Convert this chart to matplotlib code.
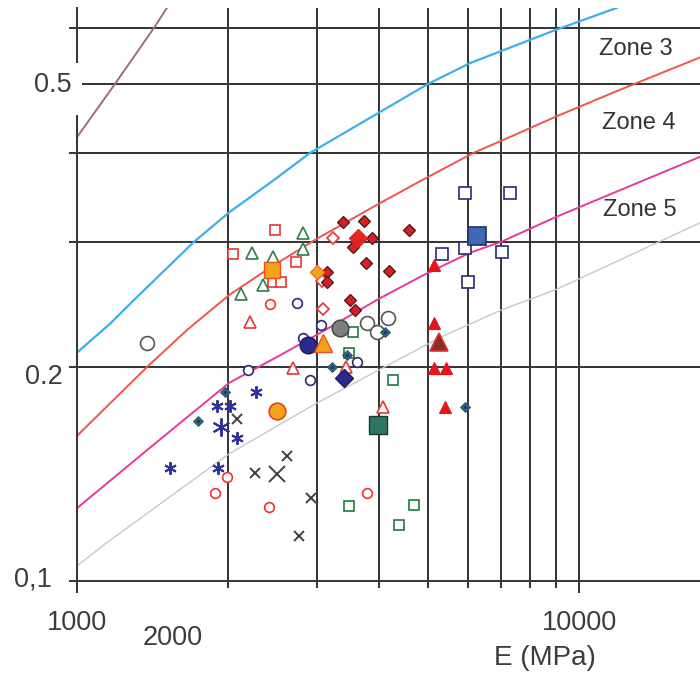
import matplotlib
matplotlib.use("Agg")
import matplotlib.pyplot as plt
from matplotlib.patches import Rectangle

plt.rcParams["font.family"] = ["Liberation Sans", "DejaVu Sans"]

# ---------------------------------------------------------------------------
# zone boundary curves (E in MPa, ordinate)
# ---------------------------------------------------------------------------
top_e = [1000, 1190, 1424, 1511, 1560]
top_v = [0.421, 0.500, 0.600, 0.640, 0.660]

zone3_e = [1000, 1163, 1317, 1711, 2010, 2469, 2912, 4014, 5000, 6065, 9000, 11904, 12500]
zone3_v = [0.2095, 0.2300, 0.2509, 0.300, 0.330, 0.3665, 0.400, 0.4567, 0.500, 0.535, 0.596, 0.640, 0.655]

zone4_e = [1000, 1379, 1656, 2010, 2469, 3006, 4014, 5000, 6160, 7500, 9000, 12000, 17420]
zone4_v = [0.160, 0.200, 0.2254, 0.2525, 0.2782, 0.303, 0.340, 0.370, 0.400, 0.425, 0.450, 0.490, 0.545]

zone5_e = [1000, 1379, 2010, 2503, 3006, 4014, 5000, 6065, 7000, 9000, 17420]
zone5_v = [0.1266, 0.1528, 0.190, 0.2066, 0.222, 0.2499, 0.2713, 0.2895, 0.300, 0.3251, 0.395]

low_e = [1000, 1148, 2010, 3006, 5285, 7000, 9000, 17420]
low_v = [0.105, 0.1133, 0.151, 0.178, 0.220, 0.2405, 0.257, 0.319]

# ---------------------------------------------------------------------------
# measured points
# ---------------------------------------------------------------------------
red_sq_e = [2480, 2045, 2731, 2457, 2549]
red_sq_v = [0.312, 0.2885, 0.281, 0.263, 0.263]

green_tri_e = [2232, 2819, 2819, 2121, 2347, 2457]
green_tri_v = [0.289, 0.309, 0.293, 0.253, 0.261, 0.286]

red_circ_e = [2424, 1989, 1883, 2413, 3781]
red_circ_v = [0.245, 0.140, 0.133, 0.127, 0.133]

red_dia_e = [3236, 3076, 3090]
red_dia_v = [0.304, 0.264, 0.241]

dkred_dia_e = [3388, 3730, 3869, 3547, 4586, 3764, 4184, 3148, 3148, 3498, 3579]
dkred_dia_v = [0.320, 0.321, 0.304, 0.295, 0.312, 0.280, 0.273, 0.272, 0.263, 0.2485, 0.2405]

red_tri_e = [5144, 5144, 5144, 5435, 5410]
red_tri_v = [0.278, 0.2305, 0.1994, 0.1994, 0.1757]

navy_sq_e = [5930, 7288, 5930, 5336, 7025, 6012]
navy_sq_v = [0.351, 0.351, 0.294, 0.2885, 0.290, 0.263]

teal_dia_e = [1971, 1742, 3221, 3451, 4109, 5930]
teal_dia_v = [0.1845, 0.168, 0.200, 0.208, 0.224, 0.1757]

green_sq_e = [3547, 3482, 4262, 3482, 4693, 4380]
green_sq_v = [0.224, 0.209, 0.192, 0.1275, 0.128, 0.120]

gray_circ_e = [1379, 3781, 4165, 3959]
gray_circ_v = [0.216, 0.2305, 0.234, 0.224]

navy_circ_e = [2743, 2191, 2912, 3612, 2819, 3062]
navy_circ_v = [0.246, 0.198, 0.192, 0.203, 0.220, 0.229]

red_otri_e = [2211, 2693, 3435, 4071]
red_otri_v = [0.231, 0.1994, 0.200, 0.1757]

star_e = [2273, 1900, 2017, 2083, 1532, 1909]
star_v = [0.1845, 0.176, 0.176, 0.159, 0.144, 0.144]
star_big_e = [1936]
star_big_v = [0.1647]

cross_e = [2083, 2263, 2620, 2925, 2768]
cross_v = [0.169, 0.142, 0.150, 0.131, 0.1157]
cross_big_e = [2503]
cross_big_v = [0.1415]

# mean values (large symbols)
orange_dia_e, orange_dia_v = [3006], [0.272]
orange_sq_e, orange_sq_v = [2446], [0.274]
bigred_dia_e, bigred_dia_v = [3628], [0.304]
blue_sq_e, blue_sq_v = [6265], [0.3057]
dkred_tri_e, dkred_tri_v = [5262], [0.2168]
gray_fc_e, gray_fc_v = [3342], [0.227]
navy_fc_e, navy_fc_v = [2885], [0.2147]
orange_tri_e, orange_tri_v = [3090], [0.216]
navy_dia_e, navy_dia_v = [3404], [0.193]
orange_circ_e, orange_circ_v = [2503], [0.1734]
teal_sq_e, teal_sq_v = [3977], [0.166]

GRID = "#383838"
TXT = "#3c3c3c"
W, H = 700, 673

fig = plt.figure(figsize=(W / 100, H / 100), dpi=100)
ax = fig.add_axes([77 / W, 1 - 581 / H, 623 / W, 573 / H])
ax.set_xscale("log")
ax.set_yscale("log")
ax.set_xlim(1000, 17420)
ax.set_ylim(0.1, 0.6396)

# grid: major ticks at the decades, minor ticks in between
ax.set_xticks([1000, 10000])
ax.set_xticks([2000, 3000, 4000, 5000, 6000, 7000, 8000, 9000], minor=True)
ax.set_yticks([0.1, 0.2, 0.3, 0.4, 0.5, 0.6])
ax.set_yticks([], minor=True)
ax.set_xticklabels([])
ax.set_xticklabels([], minor=True)
ax.set_yticklabels([])
ax.grid(True, which="both", color=GRID, linewidth=1.45)
ax.tick_params(axis="x", which="major", direction="out", length=8.5, width=1.45, color=GRID)
ax.tick_params(axis="x", which="minor", direction="out", length=5, width=1.45, color=GRID)
ax.tick_params(axis="y", which="major", direction="out", length=6, width=1.45, color=GRID)
for side in ("top", "right"):
    ax.spines[side].set_visible(False)
for side in ("left", "bottom"):
    ax.spines[side].set_color(GRID)
    ax.spines[side].set_linewidth(1.45)

# zone curves
ax.plot(top_e, top_v, color="#9e6a85", lw=1.4)
ax.plot(zone3_e, zone3_v, color="#3bb0ea", lw=1.6)
ax.plot(zone4_e, zone4_v, color="#f0554d", lw=1.4)
ax.plot(zone5_e, zone5_v, color="#e8389a", lw=1.4)
ax.plot(low_e, low_v, color="#c8c8cc", lw=1.0)


def pts(e, v, **kw):
    ax.plot(e, v, linestyle="none", **kw)


# small symbols
pts(red_sq_e, red_sq_v, marker="s", ms=7.5, mfc="white", mec="#ee3333", mew=1.2)
pts(green_tri_e, green_tri_v, marker="^", ms=8.5, mfc="white", mec="#2e7d4a", mew=1.2)
pts(red_circ_e, red_circ_v, marker="o", ms=7, mfc="white", mec="#ee3333", mew=1.2)
pts(red_dia_e, red_dia_v, marker="D", ms=6.5, mfc="white", mec="#ee3333", mew=1.2)
pts(navy_sq_e, navy_sq_v, marker="s", ms=8, mfc="white", mec="#2b2b70", mew=1.2)
pts(green_sq_e, green_sq_v, marker="s", ms=7.5, mfc="white", mec="#1e7a3e", mew=1.2)
pts(gray_circ_e, gray_circ_v, marker="o", ms=10, mfc="white", mec="#555555", mew=1.2)
pts(navy_circ_e, navy_circ_v, marker="o", ms=7, mfc="white", mec="#2b2b70", mew=1.2)
pts(red_otri_e, red_otri_v, marker="^", ms=8, mfc="white", mec="#ee3333", mew=1.2)
pts(star_e, star_v, marker=(6, 2, 0), ms=9, color="#30309a", mew=1.4)
pts(star_big_e, star_big_v, marker=(6, 2, 0), ms=13, color="#30309a", mew=1.4)
pts(cross_e, cross_v, marker="x", ms=7, color="#404040", mew=1.4)
pts(cross_big_e, cross_big_v, marker="x", ms=11, color="#404040", mew=1.4)
pts(dkred_dia_e, dkred_dia_v, marker="D", ms=6.3, mfc="#d42028", mec="#4a1515", mew=0.9)
pts(red_tri_e, red_tri_v, marker="^", ms=9, mfc="#e8141c", mec="#e8141c", mew=0.8)
pts(teal_dia_e, teal_dia_v, marker="D", ms=5.2, mfc="#2e6e6a", mec="#1f4f5a", mew=0.6)
pts(teal_dia_e, teal_dia_v, marker="o", ms=2.5, mfc="#2a2aa0", mec="none")

# large symbols
pts(orange_dia_e, orange_dia_v, marker="D", ms=7.5, mfc="#f5a31a", mec="#f07020", mew=1.0)
pts(orange_sq_e, orange_sq_v, marker="s", ms=12, mfc="#f5a31a", mec="#e8501e", mew=1.0)
pts(bigred_dia_e, bigred_dia_v, marker="D", ms=9, mfc="#e52521", mec="#e52521", mew=1.0)
pts(blue_sq_e, blue_sq_v, marker="s", ms=13, mfc="#3d6bb3", mec="#2b2b70", mew=1.2)
pts(dkred_tri_e, dkred_tri_v, marker="^", ms=13, mfc="#8b2a2a", mec="#e03030", mew=1.2)
pts(gray_fc_e, gray_fc_v, marker="o", ms=12, mfc="#7f7f7f", mec="#404040", mew=1.0)
pts(navy_fc_e, navy_fc_v, marker="o", ms=12, mfc="#2a2a8c", mec="#1c1c60", mew=1.0)
pts(orange_tri_e, orange_tri_v, marker="^", ms=13, mfc="#f5a01a", mec="#e85020", mew=1.0)
pts(navy_dia_e, navy_dia_v, marker="D", ms=9, mfc="#2a2a8c", mec="#1c1c60", mew=1.0)
pts(orange_circ_e, orange_circ_v, marker="o", ms=12, mfc="#f5a31a", mec="#e8401e", mew=1.2)
pts(teal_sq_e, teal_sq_v, marker="s", ms=12.5, mfc="#2f7565", mec="#1a3a30", mew=1.0)

# zone labels
ax.text(12990, 0.560, "Zone 3", fontsize=17, color="#333333", ha="center", va="center")
ax.text(13150, 0.441, "Zone 4", fontsize=17, color="#333333", ha="center", va="center")
ax.text(13200, 0.332, "Zone 5", fontsize=17, color="#333333", ha="center", va="center")


def ftext(px, py, s, size=19.5, **kw):
    fig.text(px / W, 1 - py / H, s, color=TXT, fontsize=size, **kw)


# white box behind the 0.5 label breaks the axis line
fig.patches.append(Rectangle((28 / W, 1 - 115 / H), 54 / W, 52 / H,
                             transform=fig.transFigure, facecolor="white",
                             edgecolor="none", zorder=5))
ftext(72, 85, "0.5", ha="right", va="center", zorder=6)
ftext(63, 377, "0.2", ha="right", va="center")
ftext(52, 580, "0,1", ha="right", va="center")

ftext(77, 623, "1000", ha="center", va="center")
ftext(579, 623, "10000", ha="center", va="center")
ftext(173, 638, "2000", ha="center", va="center", zorder=4)
fig.patches.append(Rectangle((130 / W, 0), 100 / W, (H - 645) / H,
                             transform=fig.transFigure, facecolor="white",
                             edgecolor="none", zorder=5))
ftext(545, 658, "E (MPa)", size=20, ha="center", va="center")

fig.savefig("out.png", dpi=100)
